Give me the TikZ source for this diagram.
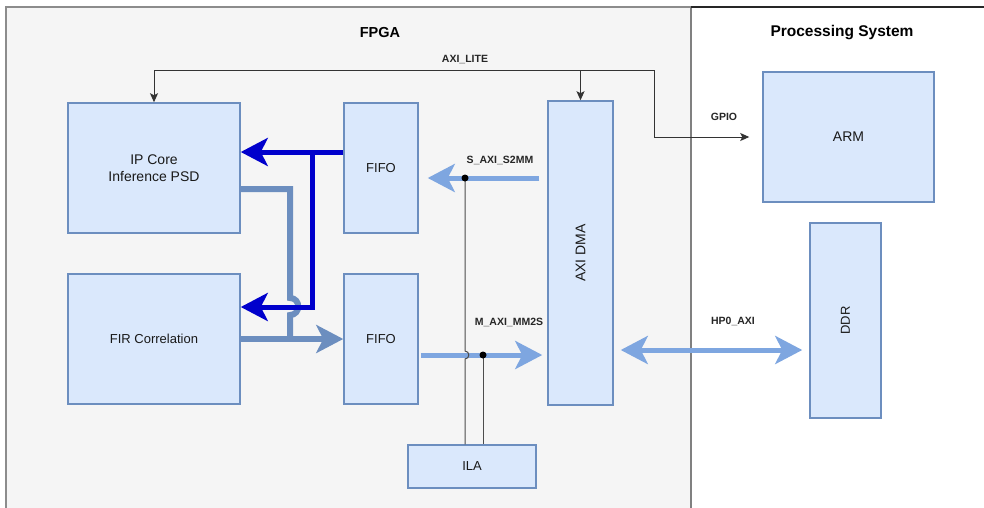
\documentclass[tikz,border=0pt]{standalone}
\usepackage{fontspec}
\setmainfont{Liberation Sans}
\usetikzlibrary{arrows.meta,positioning,calc}

\definecolor{boxfill}{HTML}{DAE8FC}
\definecolor{boxline}{HTML}{6C8EBF}
\definecolor{busdark}{HTML}{0000CC}
\definecolor{bussteel}{HTML}{6C8EBF}
\definecolor{buslight}{HTML}{7EA6E0}
\definecolor{regionfill}{HTML}{F5F5F5}

\tikzset{
  block/.style={draw=boxline, fill=boxfill, line width=1.5pt, inner sep=0pt,
    align=center, text=black!90, font=\fontsize{13}{16}\selectfont},
  buslabel/.style={font=\bfseries\fontsize{10.5}{12}\selectfont, text=black!85},
  darkbus/.style={draw=busdark, line width=5pt, -{Stealth[length=27pt,width=28pt,inset=7pt]}},
  steelbus/.style={draw=bussteel, line width=6pt},
  lightbus/.style={draw=buslight, line width=5pt, -{Stealth[length=27pt,width=28pt,inset=7pt]}},
  ctrl/.style={draw=black!80, line width=1pt, -{Stealth[length=9pt,width=8pt,inset=2pt]}},
  probe/.style={draw=black!70, line width=1pt},
}

\begin{document}
\begin{tikzpicture}[x=1pt, y=-1pt]
  \useasboundingbox (0,0) rectangle (984,507);

  % regions
  \fill[regionfill] (6,7) rectangle (691,512);
  \draw[black!45, line width=2pt] (6,512) -- (6,7) -- (691,7);
  \draw[black!50, line width=1.5pt] (691,7) -- (691,512);
  \draw[black!85, line width=1.5pt] (691,7) -- (990,7);
  \node[font=\bfseries\fontsize{14.5}{17}\selectfont] (fpga) at (380,33) {FPGA};
  \node[font=\bfseries\fontsize{15.5}{18}\selectfont] (ps) at (842,33) {Processing System};

  % blocks
  \node[block, minimum width=172pt, minimum height=130pt, font=\fontsize{14}{17}\selectfont] (ipcore) at (154,168) {IP Core\\Inference PSD};
  \node[block, minimum width=172pt, minimum height=130pt] (fir) at (154,339) {FIR Correlation};
  \node[block, minimum width=74pt, minimum height=130pt] (fifoA) at (381,168) {FIFO};
  \node[block, minimum width=74pt, minimum height=130pt] (fifoB) at (381,339) {FIFO};
  \node[block, minimum width=65pt, minimum height=304pt] (dma) at (580.5,253) {};
  \node[rotate=90, font=\fontsize{14}{17}\selectfont, text=black!90] (dmatext) at (dma.center) {AXI DMA};
  \node[block, minimum width=128pt, minimum height=43pt] (ila) at (472,466.5) {ILA};
  \node[block, minimum width=171pt, minimum height=130pt, font=\fontsize{14}{17}\selectfont] (arm) at (848.5,137) {ARM};
  \node[block, minimum width=71pt, minimum height=195pt] (ddr) at (845.5,320.5) {};
  \node[rotate=90, font=\fontsize{13}{16}\selectfont, text=black!90] (ddrtext) at (ddr.center) {DDR};

  % AXI_LITE / GPIO
  \coordinate (lite) at (654,70);
  \coordinate (litedma) at (dma.north |- lite);
  \draw[ctrl] (lite) -| (ipcore.north);
  \draw[ctrl] (litedma) -- (dma.north);
  \draw[ctrl, shorten >=13pt] (lite) |- (arm.west);
  \node[buslabel] (litelbl) at (465,60) {AXI\_LITE};
  \node[buslabel] (gpiolbl) at (724,117) {GPIO};

  % steel bus FIR -> FIFO, IP core joins it (with hop)
  \coordinate (sa) at (290,189);
  \coordinate (sb) at (290,339);
  \draw[steelbus, -{Stealth[length=27pt,width=28pt,inset=7pt]}] (fir.east) -- (fifoB.west);
  \draw[steelbus] ([yshift=-21pt]ipcore.east) -- (sa) -- (290,298)
    .. controls (301,298) and (301,315) .. (290,315) -- (sb);

  % dark bus FIFO -> IP core / FIR
  \coordinate (dj) at (312,152);
  \draw[darkbus] ([yshift=16pt]fifoA.west) -- ([yshift=16pt]ipcore.east);
  \draw[darkbus] (dj) |- ([yshift=32pt]fir.east);

  % DMA streams
  \coordinate (s2mm) at (540,178);
  \coordinate (mm2s) at (420,355);
  \draw[lightbus, shorten <=8pt, shorten >=9pt] (dma.west |- s2mm) -- (fifoA.east |- s2mm);
  \draw[lightbus, shorten <=2pt, shorten >=5pt] (fifoB.east |- mm2s) -- (dma.west |- mm2s);
  \node[buslabel] (s2mmlbl) at (500,160) {S\_AXI\_S2MM};
  \node[buslabel] (mm2slbl) at (509,322) {M\_AXI\_MM2S};

  % HP0
  \coordinate (hp) at (700,350);
  \draw[lightbus, {Stealth[length=27pt,width=28pt,inset=7pt]}-{Stealth[length=27pt,width=28pt,inset=7pt]},
    shorten <=7pt, shorten >=7pt] (dma.east |- hp) -- (ddr.west |- hp);
  \node[buslabel] (hplbl) at (733,321) {HP0\_AXI};

  % ILA probes
  \coordinate (pa) at (465,178);
  \coordinate (pb) at (483,355);
  \draw[probe] (pa) -- (465,351) .. controls (470,351) and (470,359) .. (465,359) -- (pa |- ila.north);
  \draw[probe] (pb) -- (pb |- ila.north);
  \fill (pa) circle (3.5pt);
  \fill (pb) circle (3.5pt);
\end{tikzpicture}
\end{document}
